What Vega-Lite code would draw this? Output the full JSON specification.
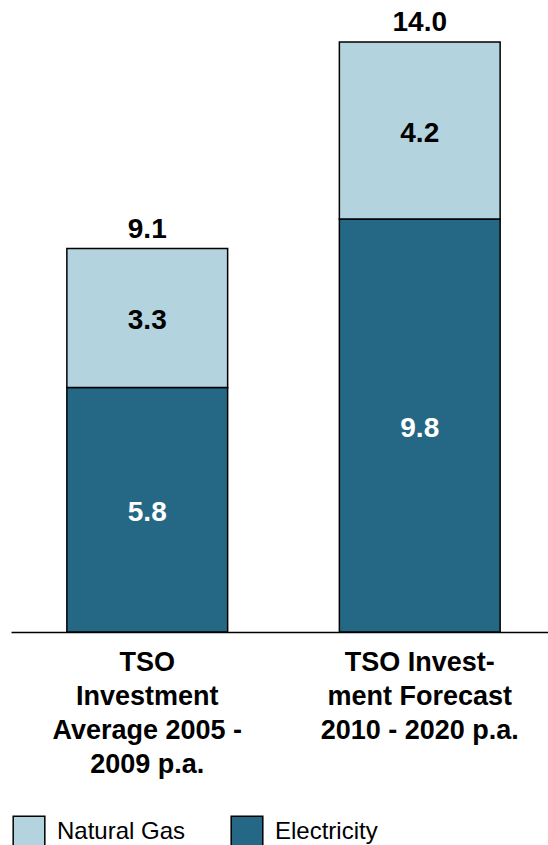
{
  "$schema": "https://vega.github.io/schema/vega-lite/v6.json",
  "autosize": "none",
  "width": 545,
  "height": 590,
  "padding": {"left": 11, "top": 42, "right": 0, "bottom": 213},
  "background": "white",
  "config": {
    "view": {"stroke": null},
    "font": "Liberation Sans",
    "text": {"font": "Liberation Sans"}
  },
  "data": {
    "values": [
      {"category": "TSO Investment Average 2005 - 2009 p.a.", "type": "Electricity", "value": 5.8},
      {"category": "TSO Investment Average 2005 - 2009 p.a.", "type": "Natural Gas", "value": 3.3},
      {"category": "TSO Investment Forecast 2010 - 2020 p.a.", "type": "Electricity", "value": 9.8},
      {"category": "TSO Investment Forecast 2010 - 2020 p.a.", "type": "Natural Gas", "value": 4.2}
    ]
  },
  "encoding": {
    "x": {
      "field": "category",
      "type": "nominal",
      "sort": null,
      "scale": {"paddingInner": 0.41, "paddingOuter": 0.205},
      "axis": {
        "title": null,
        "ticks": false,
        "domainColor": "black",
        "domainWidth": 1.5,
        "labelAngle": 0,
        "labelFont": "Liberation Sans",
        "labelFontWeight": "bold",
        "labelFontSize": 27,
        "labelColor": "black",
        "labelLineHeight": 34,
        "labelPadding": 17,
        "labelLimit": 0,
        "labelExpr": "indexof(datum.value, 'Average') >= 0 ? ['TSO', 'Investment', 'Average 2005 -', '2009 p.a.'] : ['TSO Invest-', 'ment Forecast', '2010 - 2020 p.a.']"
      }
    }
  },
  "layer": [
    {
      "transform": [
        {"stack": "value", "groupby": ["category"], "sort": [{"field": "type", "order": "ascending"}], "as": ["v0", "v1"]}
      ],
      "mark": {"type": "bar", "stroke": "black", "strokeWidth": 1.5},
      "encoding": {
        "y": {"field": "v0", "type": "quantitative", "scale": {"domain": [0, 14]}, "axis": null},
        "y2": {"field": "v1"},
        "fill": {
          "field": "type",
          "type": "nominal",
          "scale": {"domain": ["Natural Gas", "Electricity"], "range": ["#b3d3de", "#256885"]},
          "legend": {
            "title": null,
            "orient": "none",
            "legendX": 1,
            "legendY": 773,
            "direction": "horizontal",
            "symbolType": "square",
            "symbolSize": 1000,
            "symbolStrokeColor": "black",
            "symbolStrokeWidth": 1.5,
            "symbolOpacity": 1,
            "labelFont": "Liberation Sans",
            "labelFontSize": 24,
            "labelColor": "black",
            "labelOffset": 11,
            "columnPadding": 42,
            "labelLimit": 0
          }
        }
      }
    },
    {
      "transform": [
        {"stack": "value", "groupby": ["category"], "sort": [{"field": "type", "order": "ascending"}], "as": ["v0", "v1"]},
        {"calculate": "(datum.v0 + datum.v1) / 2", "as": "mid"}
      ],
      "mark": {"type": "text", "font": "Liberation Sans", "fontWeight": "bold", "fontSize": 28, "baseline": "middle", "dy": 3},
      "encoding": {
        "y": {"field": "mid", "type": "quantitative", "scale": {"domain": [0, 14]}},
        "text": {"field": "value", "type": "quantitative", "format": ".1f"},
        "color": {
          "condition": {"test": "datum.type === 'Electricity'", "value": "white"},
          "value": "black"
        }
      }
    },
    {
      "mark": {"type": "text", "font": "Liberation Sans", "fontWeight": "bold", "fontSize": 28, "baseline": "alphabetic", "dy": -11, "color": "black"},
      "encoding": {
        "y": {"aggregate": "sum", "field": "value", "type": "quantitative", "scale": {"domain": [0, 14]}},
        "text": {"aggregate": "sum", "field": "value", "type": "quantitative", "format": ".1f"}
      }
    }
  ]
}
